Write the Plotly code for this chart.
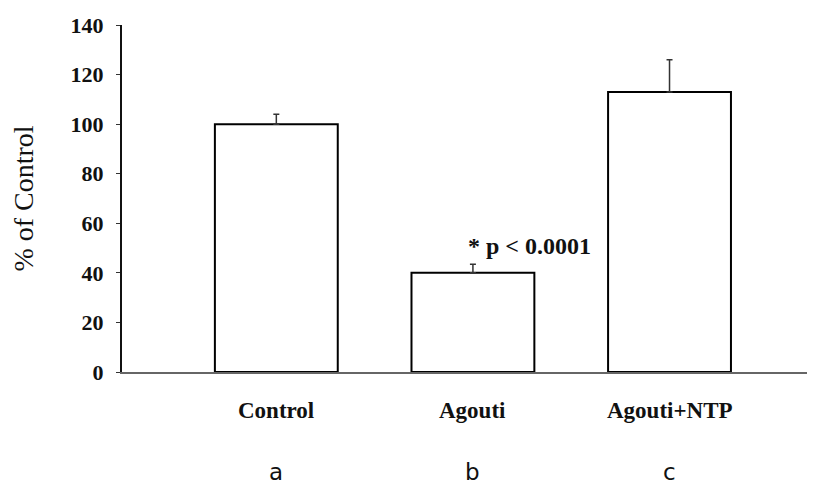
import plotly.graph_objects as go

# data
groups = ["Control", "Agouti", "Agouti+NTP"]
letters = ["a", "b", "c"]
pct_of_control = [100, 40, 113]
sem_up = [4, 3.5, 13]
y_ticks = [0, 20, 40, 60, 80, 100, 120, 140]
sig_label = "* p < 0.0001"

xpos = list(range(len(groups)))
serif = "Liberation Serif"

fig = go.Figure(go.Bar(
    x=xpos, y=pct_of_control,
    width=0.625,
    marker=dict(color="white", line=dict(color="black", width=2)),
    error_y=dict(type="data", symmetric=False, array=sem_up,
                 arrayminus=[0] * len(sem_up),
                 color="#333", thickness=1.5, width=3),
    showlegend=False,
))

# group names under the axis
for xi, name in zip(xpos, groups):
    fig.add_annotation(x=xi, y=-0.11, xref="x", yref="paper", text="<b>" + name + "</b>",
                       showarrow=False, yanchor="middle",
                       font=dict(family=serif, size=23, color="#111"))

# panel letters
for xi, lt in zip(xpos, letters):
    fig.add_annotation(x=xi, y=-0.288, xref="x", yref="paper", text=lt,
                       showarrow=False, yanchor="middle",
                       font=dict(family="DejaVu Sans", size=23, color="#111"))

fig.add_annotation(x=1.29, y=51, xref="x", yref="y", text="<b>" + sig_label + "</b>",
                   showarrow=False, font=dict(family=serif, size=24, color="#111"))

fig.update_xaxes(range=[-0.785, 2.74], showticklabels=False, ticks="",
                 showgrid=False, zeroline=False,
                 showline=True, linecolor="#666", linewidth=2)
fig.update_yaxes(range=[0, 140], tickvals=y_ticks, ticks="outside", ticklen=4,
                 tickwidth=1, tickcolor="#333", ticklabelstandoff=8,
                 tickfont=dict(family=serif, size=22, color="#111", weight="bold"),
                 showgrid=False, zeroline=False,
                 showline=True, linecolor="#111", linewidth=2,
                 title=dict(text="% of Control", standoff=30,
                            font=dict(family=serif, size=28, color="#111")))

# page body has an 8px margin, so the figure is drawn 8px in from the corner
fig.update_layout(width=807, height=480,
                  margin=dict(l=114, r=0, t=17, b=116),
                  plot_bgcolor="white", paper_bgcolor="white")

fig.write_html("out.html")
